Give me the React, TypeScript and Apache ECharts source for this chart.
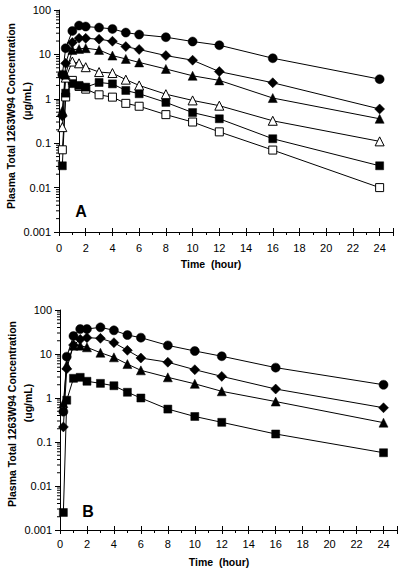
import React, { useEffect, useRef } from "react";
import * as echarts from "echarts";

const times = [0.25, 0.5, 1, 1.5, 2, 3, 4, 5, 6, 8, 10, 12, 16, 24];

// Panel A
const aCircle = [3.5, 13.8, 33.8, 44.6, 42.4, 40.2, 37.5, 31, 28, 24.4, 19.5, 16.1, 8.2, 2.77];
const aDiamond = [0.41, 6.3, 18.5, 23.1, 23, 22, 19.8, 15, 12.9, 9.4, 7.4, 4.1, 2.3, 0.59];
const aTriangle = [0.54, 3.5, 12.6, 13.3, 13.8, 12.6, 9.4, 7.9, 6.6, 4.7, 3.3, 2.6, 1.04, 0.355];
const aOpenTriangle = [0.23, 3.0, 6.9, 6.3, 5.15, 4.0, 3.8, 2.7, 2.0, 1.27, 0.92, 0.7, 0.32, 0.11];
const aSquare = [0.031, 1.34, 2.2, 2.0, 1.83, 2.33, 2.17, 1.54, 1.3, 0.83, 0.49, 0.355, 0.126, 0.031];
const aOpenSquare = [0.071, 1.1, 2.6, 1.9, 1.65, 1.23, 1.09, 0.79, 0.68, 0.44, 0.3, 0.18, 0.07, 0.01];

// Panel B
const bCircle = [0.49, 8.7, 25.7, 37, 37, 40.4, 34.5, 27, 23.5, 15.7, 11.7, 8.9, 4.9, 2.0];
const bDiamond = [0.22, 4.6, 16, 21.5, 23.5, 22.7, 18.1, 12.1, 8.1, 6.5, 4.4, 3.1, 1.6, 0.6];
const bTriangle = [0.76, 5.6, 15.5, 15.5, 14.2, 10.7, 8.4, 5.9, 4.25, 2.95, 2.1, 1.42, 0.83, 0.275];
const bSquare = [0.0025, 0.89, 2.8, 2.95, 2.4, 2.15, 1.9, 1.35, 1.0, 0.56, 0.38, 0.28, 0.152, 0.057];

const yTitle = "Plasma Total 1263W94 Concentration";
const unitA = "(µg/mL)";
const unitB = "(ug/mL)";
const xTitle = "Time  (hour)";

const FONT = '"Liberation Sans", Arial, sans-serif';

// log-axis minor tick values (2..9 per decade)
const minorVals: number[] = [];
for (let e = -3; e < 2; e++) {
  for (let m = 2; m <= 9; m++) minorVals.push(m * Math.pow(10, e));
}

function pairs(vals: number[]) {
  return times.map((t, i) => [t, vals[i]]);
}

function lineSeries(vals: number[], symbol: string, open: boolean, idx: number) {
  return {
    type: "line",
    xAxisIndex: idx * 2,
    yAxisIndex: idx,
    data: pairs(vals),
    symbol,
    symbolSize: symbol === "rect" ? 8 : symbol === "diamond" ? 10 : 9,
    lineStyle: { color: "#000", width: 1 },
    itemStyle: open
      ? { color: "#fff", borderColor: "#000", borderWidth: 1 }
      : { color: "#000", borderColor: "#000", borderWidth: 0.5 },
    silent: true,
  };
}

function minorSeries(idx: number) {
  return {
    type: "custom",
    xAxisIndex: idx * 2,
    yAxisIndex: idx,
    silent: true,
    data: minorVals.map((v) => [0, v]),
    renderItem: (_p: any, api: any) => {
      const pt = api.coord([0, api.value(1)]);
      return {
        type: "line",
        shape: { x1: pt[0] - 3, y1: pt[1], x2: pt[0], y2: pt[1] },
        style: { stroke: "#000", lineWidth: 1 },
      };
    },
  };
}

function xAxes(gridIndex: number, margin: number) {
  const base = {
    type: "value",
    gridIndex,
    min: 0,
    max: 25,
    interval: 2,
    splitLine: { show: false },
  };
  return [
    {
      ...base,
      position: "bottom",
      axisLine: { show: true, lineStyle: { color: "#000", width: 1 } },
      axisTick: { show: true, length: 4, lineStyle: { color: "#000" } },
      minorTick: { show: true, splitNumber: 2, length: 3, lineStyle: { color: "#000" } },
      minorSplitLine: { show: false },
      axisLabel: {
        show: true,
        margin,
        color: "#000",
        fontSize: 11,
        fontFamily: FONT,
        showMaxLabel: false,
      },
    },
    {
      ...base,
      position: "bottom",
      axisLine: { show: false },
      axisTick: { show: true, inside: true, length: 4, lineStyle: { color: "#000" } },
      minorTick: { show: false },
      axisLabel: { show: false },
    },
  ];
}

function yAxis(gridIndex: number) {
  return {
    type: "log",
    logBase: 10,
    gridIndex,
    min: 0.001,
    max: 100,
    splitLine: { show: false },
    axisLine: { show: true, lineStyle: { color: "#000", width: 1 } },
    axisTick: { show: true, length: 5, lineStyle: { color: "#000" } },
    axisLabel: {
      color: "#000",
      fontSize: 11,
      fontFamily: FONT,
      margin: 8,
      formatter: (v: number) => String(Number(v.toPrecision(3))),
    },
  };
}

function vText(text: string, x: number, y: number) {
  return {
    type: "text",
    x,
    y,
    rotation: Math.PI / 2,
    silent: true,
    style: {
      text,
      fill: "#000",
      font: `bold 10.5px ${FONT}`,
      align: "center",
      verticalAlign: "middle",
    },
  };
}

function hText(text: string, x: number, y: number, size: number) {
  return {
    type: "text",
    x,
    y,
    silent: true,
    style: {
      text,
      fill: "#000",
      font: `bold ${size}px ${FONT}`,
      align: "center",
      verticalAlign: "middle",
    },
  };
}

export default function App() {
  const ref = useRef<HTMLDivElement>(null);
  useEffect(() => {
    document.body.style.margin = "0";
    const chart = echarts.init(ref.current!, undefined, { renderer: "svg" });
    chart.setOption({
      animation: false,
      backgroundColor: "#fff",
      grid: [
        { left: 59, top: 10, width: 334, height: 222, outerBoundsMode: "none" },
        { left: 60, top: 310, width: 337, height: 220, outerBoundsMode: "none" },
      ],
      xAxis: [...xAxes(0, 10), ...xAxes(1, 8)],
      yAxis: [yAxis(0), yAxis(1)],
      series: [
        minorSeries(0),
        minorSeries(1),
        lineSeries(aOpenSquare, "rect", true, 0),
        lineSeries(aSquare, "rect", false, 0),
        lineSeries(aOpenTriangle, "triangle", true, 0),
        lineSeries(aTriangle, "triangle", false, 0),
        lineSeries(aDiamond, "diamond", false, 0),
        lineSeries(aCircle, "circle", false, 0),
        lineSeries(bSquare, "rect", false, 1),
        lineSeries(bTriangle, "triangle", false, 1),
        lineSeries(bDiamond, "diamond", false, 1),
        lineSeries(bCircle, "circle", false, 1),
      ],
      graphic: [
        vText(yTitle, 10.5, 116),
        vText(unitA, 27, 101),
        vText(yTitle, 12, 414),
        vText(unitB, 28, 403),
        hText(xTitle, 211, 264, 10.5),
        hText(xTitle, 219, 562, 10.5),
        hText("A", 81, 211, 16),
        hText("B", 88, 511, 16),
      ],
    });
    return () => chart.dispose();
  }, []);
  return <div ref={ref} style={{ width: 408, height: 572 }} />;
}
